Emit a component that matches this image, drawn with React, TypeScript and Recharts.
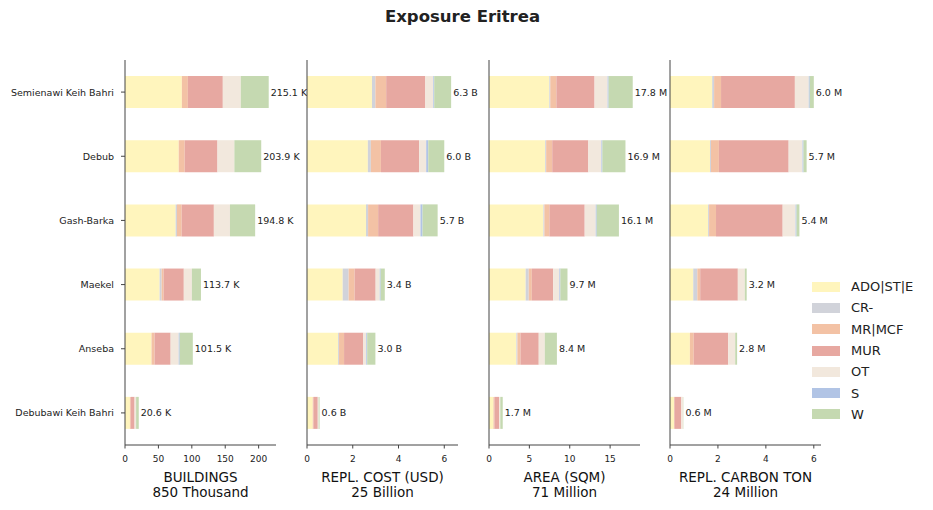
import React from 'react';
import { BarChart, Bar, XAxis, YAxis, LabelList } from 'recharts';

// Data
const regions = ['Semienawi Keih Bahri', 'Debub', 'Gash-Barka', 'Maekel', 'Anseba', 'Debubawi Keih Bahri'];
const typologies = ['ADO|ST|E', 'CR-', 'MR|MCF', 'MUR', 'OT', 'S', 'W'];
const colors = ['#fff5bd', '#d1d3da', '#f3c2a5', '#e7a8a1', '#f2e8dd', '#b1c4e5', '#c5d9b1'];

// rows follow regions, columns follow typologies
const buildingsK = [
  [85.1, 0, 9.0, 52.3, 26.9, 0, 41.8],
  [80.4, 0, 8.9, 49.1, 25.3, 0, 40.2],
  [75.8, 2.0, 7.0, 48.2, 24.1, 0, 37.7],
  [51.8, 3.0, 3.0, 30.2, 12.1, 0, 13.6],
  [39.7, 0, 4.5, 24.1, 12.1, 1.5, 19.6],
  [7.4, 0, 1.2, 5.7, 2.3, 0, 4.0],
];
const buildingsTotal = [215.1, 203.9, 194.8, 113.7, 101.5, 20.6];

const costB = [
  [2.84, 0.15, 0.47, 1.71, 0.35, 0.04, 0.74],
  [2.66, 0.13, 0.44, 1.67, 0.31, 0.09, 0.70],
  [2.58, 0.09, 0.44, 1.54, 0.31, 0.09, 0.66],
  [1.56, 0.26, 0.26, 0.92, 0.18, 0.04, 0.18],
  [1.36, 0.04, 0.22, 0.84, 0.13, 0.04, 0.36],
  [0.25, 0, 0.03, 0.19, 0.04, 0, 0.04],
];
const costTotal = [6.3, 6.0, 5.7, 3.4, 3.0, 0.6];

const areaM = [
  [7.47, 0.12, 0.75, 4.73, 1.62, 0.12, 2.99],
  [6.96, 0.12, 0.75, 4.47, 1.62, 0.12, 2.86],
  [6.74, 0.12, 0.62, 4.37, 1.37, 0.12, 2.75],
  [4.54, 0.38, 0.38, 2.65, 0.76, 0.13, 0.88],
  [3.39, 0.13, 0.38, 2.26, 0.75, 0, 1.50],
  [0.55, 0, 0.12, 0.60, 0.13, 0, 0.30],
];
const areaTotal = [17.8, 16.9, 16.1, 9.7, 8.4, 1.7];

const carbonM = [
  [1.76, 0.08, 0.29, 3.08, 0.58, 0.04, 0.17],
  [1.67, 0.04, 0.33, 2.91, 0.58, 0.04, 0.13],
  [1.59, 0.04, 0.29, 2.78, 0.54, 0.04, 0.12],
  [0.97, 0.17, 0.12, 1.57, 0.29, 0, 0.08],
  [0.83, 0, 0.16, 1.44, 0.29, 0, 0.08],
  [0.18, 0, 0, 0.29, 0.08, 0, 0.01],
];
const carbonTotal = [6.0, 5.7, 5.4, 3.2, 2.8, 0.6];

const FONT = '"DejaVu Sans", sans-serif';
const AXIS = '#444';
const PLOT_TOP = 60;
const PLOT_BOTTOM = 445;
const PLOT_W = 151;

const toRows = (values: number[][], totals: number[], suffix: string) =>
  regions.map((region, i) => {
    const row: any = { region, label: `${totals[i].toFixed(1)} ${suffix}` };
    typologies.forEach((t, j) => { row[t] = values[i][j]; });
    return row;
  });

const panels = [
  { data: toRows(buildingsK, buildingsTotal, 'K'), domain: [0, 226], ticks: [0, 50, 100, 150, 200], title: 'BUILDINGS', sub: '850 Thousand', left: 125 },
  { data: toRows(costB, costTotal, 'B'), domain: [0, 6.6], ticks: [0, 2, 4, 6], title: 'REPL. COST (USD)', sub: '25 Billion', left: 307 },
  { data: toRows(areaM, areaTotal, 'M'), domain: [0, 18.7], ticks: [0, 5, 10, 15], title: 'AREA (SQM)', sub: '71 Million', left: 489 },
  { data: toRows(carbonM, carbonTotal, 'M'), domain: [0, 6.3], ticks: [0, 2, 4, 6], title: 'REPL. CARBON TON', sub: '24 Million', left: 670 },
];

const EndLabel = (props: any) => {
  const { x, y, width, height, value } = props;
  return (
    <text x={x + width + 2} y={y + height / 2} dominantBaseline="central" fontSize={9.5} fill="#222" fontFamily={FONT}>
      {value}
    </text>
  );
};

const RegionTick = (props: any) => {
  const { x, y, payload } = props;
  return (
    <text x={x - 5} y={y} textAnchor="end" dominantBaseline="central" fontSize={9.5} fill="#222" fontFamily={FONT}>
      {payload.value}
    </text>
  );
};

const NumTick = (props: any) => {
  const { x, y, payload } = props;
  return (
    <text x={x} y={y + 8} textAnchor="middle" dominantBaseline="central" fontSize={9} fill="#222" fontFamily={FONT}>
      {payload.value}
    </text>
  );
};

const Panel = ({ p, idx }: any) => {
  const yW = idx === 0 ? 125 : 10;
  const rightM = 45;
  return (
    <div style={{ position: 'absolute', left: p.left - yW, top: 0 }}>
      <BarChart
        width={yW + PLOT_W + rightM}
        height={510}
        layout="vertical"
        data={p.data}
        margin={{ top: PLOT_TOP, right: rightM, left: 0, bottom: 510 - PLOT_BOTTOM - 30 }}
        barCategoryGap="25%"
      >
        <XAxis
          type="number"
          domain={p.domain}
          ticks={p.ticks}
          height={30}
          allowDataOverflow
          tick={<NumTick />}
          tickSize={3.5}
          stroke={AXIS}
          label={(lp: any) => {
            const vb = lp.viewBox;
            const cx = vb.x + vb.width / 2;
            return (
              <text x={cx} textAnchor="middle" fontSize={13.5} fill="#111" fontFamily={FONT}>
                <tspan x={cx} y={482}>{p.title}</tspan>
                <tspan x={cx} y={497}>{p.sub}</tspan>
              </text>
            );
          }}
        />
        <YAxis
          type="category"
          dataKey="region"
          width={yW}
          tick={idx === 0 ? <RegionTick /> : false}
          tickSize={4}
          stroke={AXIS}
          tickLine={{ stroke: AXIS }}
        />
        {typologies.map((t, j) => (
          <Bar key={t} dataKey={t} stackId="a" fill={colors[j]} isAnimationActive={false}>
            {j === typologies.length - 1 && <LabelList dataKey="label" content={EndLabel} />}
          </Bar>
        ))}
      </BarChart>
    </div>
  );
};

export default function App() {
  return (
    <div style={{ position: 'absolute', left: 0, top: 0, width: 933, height: 510, background: '#fff', fontFamily: FONT }}>
      <div style={{ position: 'absolute', top: 7, left: 0, width: 925, textAlign: 'center', fontWeight: 'bold', fontSize: 16.5, color: '#222' }}>
        Exposure Eritrea
      </div>
      {panels.map((p, i) => (
        <Panel key={p.title} p={p} idx={i} />
      ))}
      <div style={{ position: 'absolute', left: 812, top: 276 }}>
        {typologies.map((t, j) => (
          <div key={t} style={{ display: 'flex', alignItems: 'center', height: 21.3 }}>
            <div style={{ width: 28, height: 10, background: colors[j] }} />
            <span style={{ marginLeft: 11, fontSize: 13, color: '#222' }}>{t}</span>
          </div>
        ))}
      </div>
    </div>
  );
}
